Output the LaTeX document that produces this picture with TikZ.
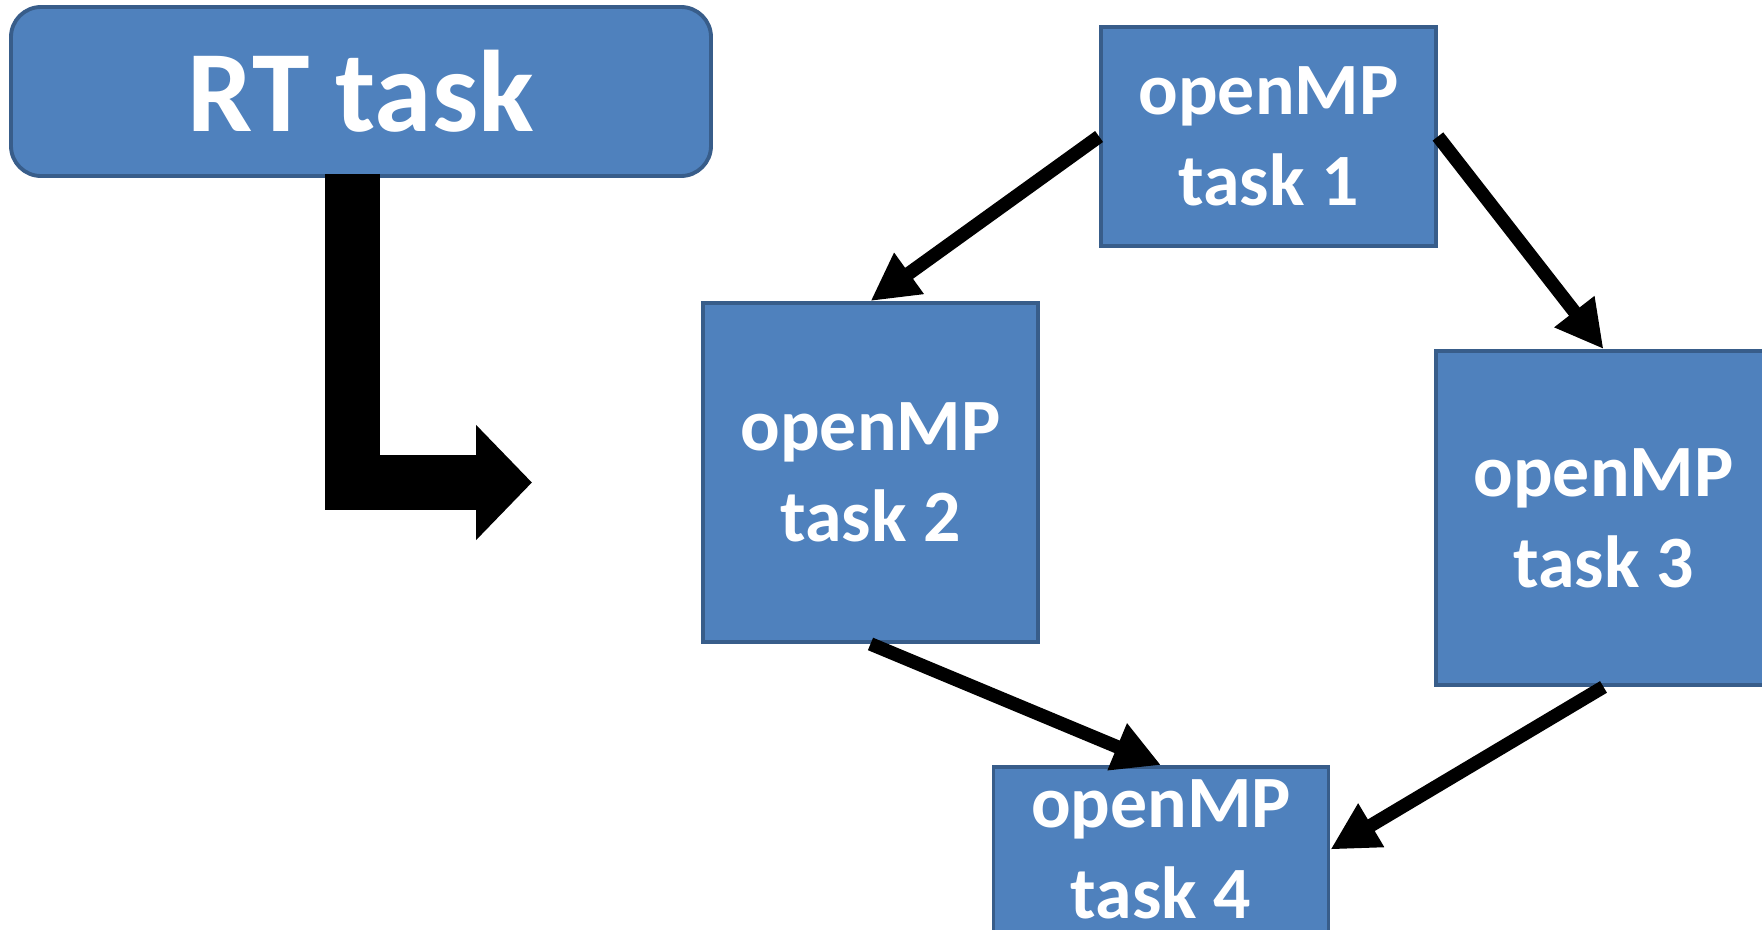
\documentclass[tikz,border=0pt]{standalone}
\usepackage{fontspec}
\setmainfont{Carlito}
\usetikzlibrary{positioning,arrows.meta,calc}
\definecolor{ompfill}{HTML}{4F81BD}
\definecolor{ompline}{HTML}{385D8A}

\begin{document}
\begin{tikzpicture}[>={Triangle[length=0.95cm,width=0.95cm]},
  omp/.style={draw=ompline, line width=2.2pt, fill=ompfill, text=white, align=center, inner sep=0pt,
    font=\fontsize{42}{51.7}\selectfont\bfseries, minimum width=6.7cm},
  flow/.style={->, line width=0.27cm}]
  \useasboundingbox (0,0) rectangle (35.24,-18.58);
  \node[omp, rounded corners=0.6cm, minimum width=14cm, minimum height=3.38cm,
    font=\fontsize{66}{70}\selectfont\bfseries] (rt) at (7.22,-1.83) {RT task};
  \node[omp, minimum height=4.38cm] (t1) at (25.37,-2.73) {openMP\\task 1};
  \node[omp, minimum height=6.78cm] (t2) at (17.41,-9.45) {openMP\\task 2};
  \node[omp, minimum height=6.68cm] (t3) at (32.07,-10.36) {openMP\\task 3};
  \node[omp, minimum height=3.3cm] (t4) at (23.22,-16.99) {openMP\\task 4};
  % bent arrow out of the RT task
  \coordinate (rtgo) at (10.64,-9.65);
  \draw[line width=1.1cm, -{Triangle[length=1.12cm,width=2.24cm]}]
    ([xshift=-0.17cm,yshift=0.08cm]rt.south) |- (rtgo);
  \draw[flow] (t1.west) -- (t2.north);
  \draw[flow] (t1.east) -- (t3.north);
  \draw[flow] (t2.south) -- (t4.north);
  \draw[flow] (t3.south) -- (t4.east);
\end{tikzpicture}
\end{document}
